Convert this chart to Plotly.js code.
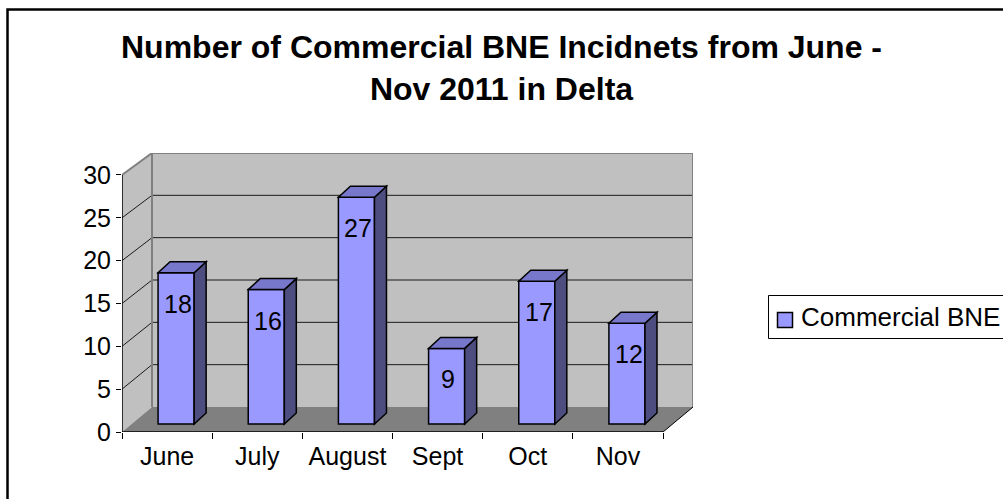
<!DOCTYPE html>
<html>
<head>
<meta charset="utf-8">
<script src="https://cdn.plot.ly/plotly-3.0.1.min.js"></script>
<style>html,body{margin:0;padding:0;background:#fff;}#chart{width:1003px;height:499px;}</style>
</head>
<body>
<div id="chart"></div>
<script>
// ---- data ----
const categories = ['June', 'July', 'August', 'Sept', 'Oct', 'Nov'];
const incidents = [18, 16, 27, 9, 17, 12];
const yTicks = [0, 5, 10, 15, 20, 25, 30];
const seriesName = 'Commercial BNE';
const titleText = '<b>Number of Commercial BNE Incidnets from June -<br>Nov 2011 in Delta</b>';

// ---- geometry (pixels) ----
const W = 1003, H = 499;
const L = 122, R = 693, T = 153, B = 432;
const pxPerCat = 90.17;
const pxPerUnitFront = 8.567;
const pxPerUnitBack = 8.467;
const depthX = 30, depthY = 25;          // wall depth offset
const barBase = 424, pxPerUnitBar = 8.4; // bar front-face scale
const barDX = 12, barDY = 11;            // bar depth offset

const xr = [-0.5, -0.5 + (R - L) / pxPerCat];
const yr = [0, (B - T) / pxPerUnitFront];
const y2r = [-(B - barBase) / pxPerUnitBar, (barBase - T) / pxPerUnitBar];
const dX = depthX / pxPerCat;
const back = v => (depthY + v * pxPerUnitBack) / pxPerUnitFront;
const xFrontEnd = categories.length - 0.5;
const yMax = yTicks[yTicks.length - 1];

const shapes = [];
const font = 'Liberation Sans, Arial, sans-serif';
const barColor = '#9999FF';

// side wall
shapes.push({type: 'path', layer: 'below', xref: 'x', yref: 'y',
  path: `M${-0.5},0 L${-0.5},${yMax} L${-0.5 + dX},${back(yMax)} L${-0.5 + dX},${back(0)} Z`,
  fillcolor: '#C0C0C0', line: {width: 0}});
// back wall
shapes.push({type: 'rect', layer: 'below', xref: 'x', yref: 'y',
  x0: -0.5 + dX, x1: xFrontEnd + dX, y0: back(0), y1: back(yMax),
  fillcolor: '#C0C0C0', line: {width: 0}});
// floor
shapes.push({type: 'path', layer: 'below', xref: 'x', yref: 'y',
  path: `M${-0.5},0 L${xFrontEnd},0 L${xFrontEnd + dX},${back(0)} L${-0.5 + dX},${back(0)} Z`,
  fillcolor: '#808080', line: {width: 0}});
// gridlines
yTicks.forEach(v => {
  if (v === 0 || v === yMax) return;
  shapes.push({type: 'line', layer: 'below', xref: 'x', yref: 'y',
    x0: -0.5, y0: v, x1: -0.5 + dX, y1: back(v), line: {color: '#1a1a1a', width: 1}});
  shapes.push({type: 'line', layer: 'below', xref: 'x', yref: 'y',
    x0: -0.5 + dX, y0: back(v), x1: xFrontEnd + dX, y1: back(v), line: {color: '#1a1a1a', width: 1}});
});
// wall edges (gray)
const gray = {color: '#808080', width: 2};
shapes.push({type: 'line', layer: 'below', xref: 'x', yref: 'y', x0: -0.5 + dX, y0: back(0), x1: -0.5 + dX, y1: back(yMax), line: gray});
shapes.push({type: 'line', layer: 'below', xref: 'x', yref: 'y', x0: -0.5 + dX, y0: back(yMax), x1: xFrontEnd + dX, y1: back(yMax), line: gray});
shapes.push({type: 'line', layer: 'below', xref: 'x', yref: 'y', x0: xFrontEnd + dX, y0: back(0), x1: xFrontEnd + dX, y1: back(yMax), line: gray});
shapes.push({type: 'line', layer: 'below', xref: 'x', yref: 'y', x0: -0.5, y0: yMax, x1: -0.5 + dX, y1: back(yMax), line: gray});
// axes lines (black)
const blk = {color: '#000', width: 1.5};
shapes.push({type: 'line', layer: 'above', xref: 'x', yref: 'y', x0: -0.5, y0: 0, x1: -0.5, y1: yMax, line: blk});
shapes.push({type: 'line', layer: 'above', xref: 'x', yref: 'y', x0: -0.5, y0: 0, x1: xFrontEnd, y1: 0, line: blk});
shapes.push({type: 'line', layer: 'above', xref: 'x', yref: 'y', x0: xFrontEnd, y0: 0, x1: xFrontEnd + dX, y1: back(0), line: {color: '#000', width: 1}});

// bar 3D faces
const bOff = -0.1, bW = 0.4;
const bdx = barDX / pxPerCat, bdy = barDY / pxPerUnitBar;
incidents.forEach((v, i) => {
  const xl = i + bOff, xrt = i + bOff + bW;
  shapes.push({type: 'path', layer: 'above', xref: 'x', yref: 'y2',
    path: `M${xrt},0 L${xrt},${v} L${xrt + bdx},${v + bdy} L${xrt + bdx},${bdy} Z`,
    fillcolor: '#4D4D80', line: {color: '#000', width: 1.5}});
  shapes.push({type: 'path', layer: 'above', xref: 'x', yref: 'y2',
    path: `M${xl},${v} L${xrt},${v} L${xrt + bdx},${v + bdy} L${xl + bdx},${v + bdy} Z`,
    fillcolor: '#7777CC', line: {color: '#000', width: 1.5}});
});

// pixel -> paper helpers (plot area is fixed by margins)
const px = x => (x - L) / (R - L);
const py = y => (B - y) / (B - T);

// outer frame
shapes.push({type: 'rect', layer: 'above', xref: 'paper', yref: 'paper',
  x0: px(7.5), x1: px(1020), y0: py(520), y1: py(9.5), fillcolor: 'rgba(0,0,0,0)', line: {color: '#000', width: 2.5}});

// legend (drawn manually so it may run past the right edge like the original)
shapes.push({type: 'rect', layer: 'above', xref: 'paper', yref: 'paper',
  x0: px(768.5), x1: px(1015), y0: py(338.5), y1: py(295.5), fillcolor: '#fff', line: {color: '#000', width: 1}});
shapes.push({type: 'rect', layer: 'above', xref: 'paper', yref: 'paper',
  x0: px(777.5), x1: px(792.5), y0: py(327.5), y1: py(312.5), fillcolor: barColor, line: {color: '#000', width: 1.5}});

// data labels
const annotations = incidents.map((v, i) => ({
  xref: 'x', yref: 'y2', x: i + bOff + bW / 2 + 0.02, y: v, yshift: -31,
  xanchor: 'center', yanchor: 'middle', showarrow: false,
  text: String(v), font: {family: font, size: 25, color: '#000'}
}));
annotations.push({xref: 'paper', yref: 'paper', x: px(799), y: py(317), xanchor: 'left', yanchor: 'middle',
  showarrow: false, text: seriesName, font: {family: font, size: 26, color: '#000'}});

const trace = {
  type: 'bar', name: seriesName,
  x: categories.map((c, i) => i), y: incidents,
  xaxis: 'x', yaxis: 'y2',
  offset: bOff, width: bW,
  marker: {color: barColor, line: {color: '#000', width: 1.5}},
  hoverinfo: 'none', showlegend: false
};
const boundaryTrace = {type: 'scatter', x: [], y: [], xaxis: 'x2', yaxis: 'y', showlegend: false, hoverinfo: 'none'};

const layout = {
  width: W, height: H,
  margin: {l: L, r: W - R, t: T, b: H - B, pad: 0},
  paper_bgcolor: '#fff', plot_bgcolor: 'rgba(0,0,0,0)',
  font: {family: font, color: '#000', size: 25},
  title: {text: titleText, font: {family: font, size: 32, color: '#000'},
    x: 0.5, xref: 'container', xanchor: 'center', y: 1 - 58 / H, yref: 'container', yanchor: 'top'},
  xaxis: {range: xr, tickvals: categories.map((c, i) => i), ticktext: categories, ticks: '',
    showgrid: false, zeroline: false, showline: false, tickfont: {size: 25}, ticklabelstandoff: 7, fixedrange: true},
  xaxis2: {range: xr, overlaying: 'x', anchor: 'y', side: 'bottom',
    tickvals: categories.map((c, i) => i - 0.5).concat([xFrontEnd]), ticks: 'outside', ticklen: 6,
    tickcolor: '#000', tickwidth: 1, showticklabels: false, showgrid: false, zeroline: false, showline: false},
  yaxis: {range: yr, tickvals: yTicks, ticks: 'outside', ticklen: 5, tickcolor: '#000', tickwidth: 1,
    showgrid: false, zeroline: false, showline: false, tickfont: {size: 25}},
  yaxis2: {range: y2r, overlaying: 'y', visible: false},
  showlegend: false,
  annotations: annotations,
  shapes: shapes
};

Plotly.newPlot('chart', [trace, boundaryTrace], layout, {staticPlot: true, displayModeBar: false});
</script>
</body>
</html>
